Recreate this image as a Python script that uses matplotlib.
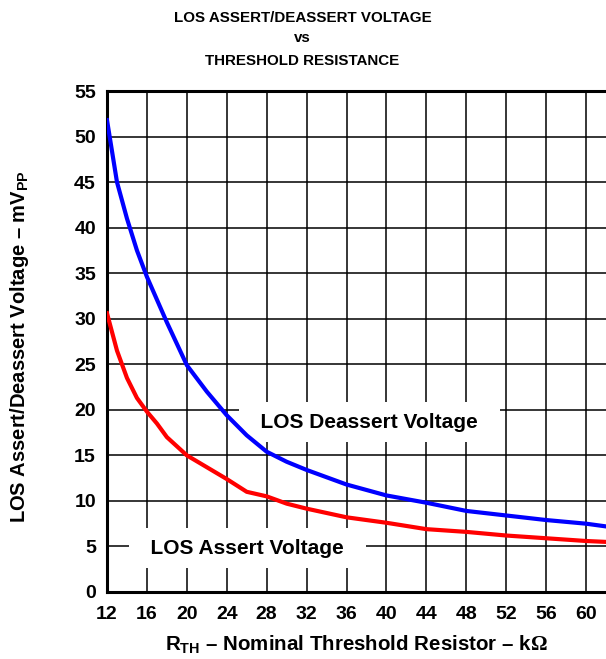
import numpy as np
import matplotlib
matplotlib.use('Agg')
from matplotlib import pyplot as plt

plt.rcParams['font.family'] = ['Liberation Sans', 'DejaVu Sans']
plt.rcParams['font.weight'] = 'bold'
plt.rcParams['mathtext.fontset'] = 'custom'
plt.rcParams['mathtext.rm'] = 'Liberation Serif'
plt.rcParams['mathtext.bf'] = 'Liberation Sans:bold'
plt.rcParams['mathtext.it'] = 'Liberation Sans:bold'

# threshold resistor (kOhm) vs LOS voltage (mVpp)
r_deassert = [12, 13, 14, 15, 16, 18, 20, 22, 24, 26, 28, 30, 32, 36, 40, 44, 48, 52, 56, 60, 62]
v_deassert = [51.8, 45.0, 41.0, 37.5, 34.6, 29.6, 24.9, 22.0, 19.4, 17.2, 15.4, 14.3, 13.4, 11.8,
              10.6, 9.8, 8.9, 8.4, 7.9, 7.5, 7.2]
r_assert = [12, 13, 14, 15, 16, 17, 18, 20, 22, 24, 26, 28, 30, 32, 36, 40, 44, 48, 52, 56, 60, 62]
v_assert = [30.6, 26.5, 23.5, 21.3, 19.8, 18.5, 17.0, 15.0, 13.7, 12.4, 11.0, 10.5, 9.7, 9.15,
            8.2, 7.6, 6.9, 6.6, 6.2, 5.9, 5.6, 5.5]
x_ticks = list(range(12, 61, 4))
y_ticks = list(range(0, 56, 5))
title_lines = ['LOS ASSERT/DEASSERT VOLTAGE', 'vs', 'THRESHOLD RESISTANCE']

fig = plt.figure(figsize=(6.06, 6.59), dpi=100)
ax = fig.add_axes([107 / 606, 1 - 592 / 659, 1 - 107 / 606, (592 - 91) / 659])

ax.plot(r_deassert, v_deassert, color='#0000ff', linewidth=3, zorder=3)
ax.plot(r_assert, v_assert, color='#ff0000', linewidth=3, zorder=3)

ax.set_xlim(12, 62)
ax.set_ylim(0, 55)
ax.set_xticks(x_ticks)
ax.set_yticks(y_ticks)
ax.tick_params(length=0, labelsize=14)
ax.tick_params(axis='x', pad=10)
ax.tick_params(axis='y', pad=8)
for lbl in ax.get_xticklabels() + ax.get_yticklabels():
    lbl.set_fontweight('bold')
ax.grid(which='major', axis='both', linestyle='-', color='black', linewidth=1.1, zorder=1)
ax.set_axisbelow(True)
for side in ('left', 'bottom', 'top'):
    ax.spines[side].set_linewidth(2.2)
ax.spines['right'].set_visible(False)

box = dict(boxstyle='square,pad=0.5', facecolor='white', edgecolor='none')
ax.text(38.3, 18.66, '  LOS Deassert Voltage  ', fontsize=15, fontweight='bold',
        ha='center', va='center', bbox=box, zorder=2)
ax.text(26.05, 4.83, '  LOS Assert Voltage  ', fontsize=15, fontweight='bold',
        ha='center', va='center', bbox=box, zorder=2)

ax.set_xlabel(r'R$_{\mathbf{TH}}$ – Nominal Threshold Resistor – k$\mathrm{\Omega}$', fontsize=14.8,
              fontweight='bold', labelpad=8)
ax.set_ylabel(r'LOS Assert/Deassert Voltage – mV$_{\mathbf{PP}}$', fontsize=14.5,
              fontweight='bold')
ax.yaxis.set_label_coords(-0.152, 0.49)

for txt, ypx in zip(title_lines, [22, 42, 65]):
    fig.text(302.5 / 606, 1 - ypx / 659, txt, ha='center', va='baseline',
             fontsize=10.9, fontweight='bold')

fig.savefig('out.png', dpi=100)
